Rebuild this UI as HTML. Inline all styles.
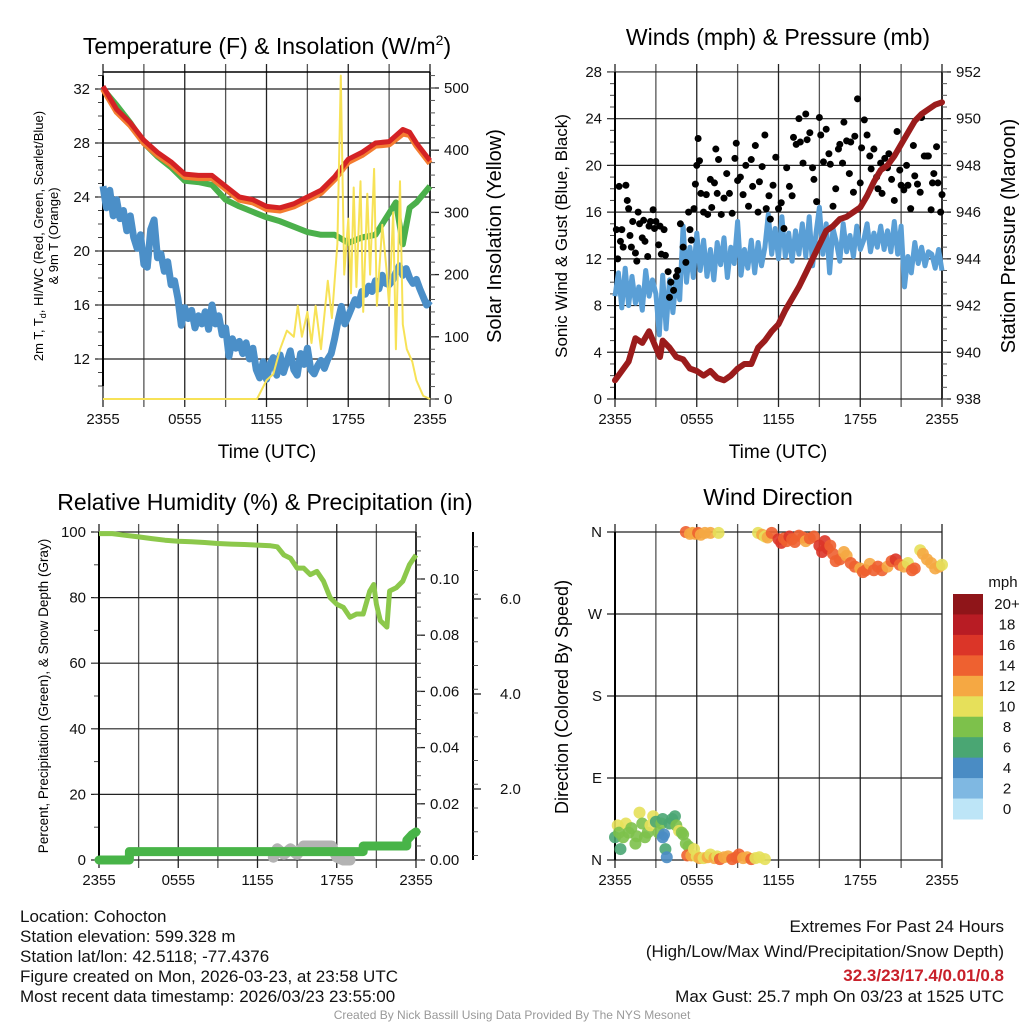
<!DOCTYPE html>
<html><head><meta charset="utf-8"><style>
html,body{margin:0;padding:0;background:#fff;}
svg{display:block;font-family:"Liberation Sans",sans-serif;}
.tk{font-size:15px;fill:#111;}
.ttl{font-size:23px;fill:#000;}
.ft{font-size:17px;fill:#111;}
</style></head><body>
<svg id="chart" width="1024" height="1024" viewBox="0 0 1024 1024" xmlns="http://www.w3.org/2000/svg">
<text class="ttl" x="267" y="54" text-anchor="middle">Temperature (F) &amp; Insolation (W/m<tspan dy="-9" font-size="14">2</tspan><tspan dy="9">)</tspan></text>
<text class="ttl" x="778" y="45" text-anchor="middle">Winds (mph) &amp; Pressure (mb)</text>
<text class="ttl" x="265" y="510" text-anchor="middle">Relative Humidity (%) &amp; Precipitation (in)</text>
<text class="ttl" x="778" y="505" text-anchor="middle">Wind Direction</text>

<text font-size="13" transform="translate(43,236) rotate(-90)" text-anchor="middle">2m T, T<tspan font-size="9" dy="3">d</tspan><tspan dy="-3">, HI/WC (Red, Green, Scarlet/Blue)</tspan></text>
<text font-size="13" transform="translate(58,236) rotate(-90)" text-anchor="middle">&amp; 9m T (Orange)</text>
<text font-size="20" transform="translate(501,236) rotate(-90)" text-anchor="middle">Solar Insolation (Yellow)</text>
<text font-size="19" x="267" y="458" text-anchor="middle">Time (UTC)</text>
<text font-size="17" transform="translate(567,236) rotate(-90)" text-anchor="middle">Sonic Wind &amp; Gust (Blue, Black)</text>
<text font-size="20" transform="translate(1015,236) rotate(-90)" text-anchor="middle">Station Pressure (Maroon)</text>
<text font-size="19" x="778" y="458" text-anchor="middle">Time (UTC)</text>
<text font-size="13.5" transform="translate(48,696) rotate(-90)" text-anchor="middle">Percent, Precipitation (Green), &amp; Snow Depth (Gray)</text>
<text font-size="18" transform="translate(568,697) rotate(-90)" text-anchor="middle">Direction (Colored By Speed)</text>

<g class="ft">
<text x="20" y="922">Location: Cohocton</text>
<text x="20" y="942">Station elevation: 599.328 m</text>
<text x="20" y="962">Station lat/lon: 42.5118; -77.4376</text>
<text x="20" y="982">Figure created on Mon, 2026-03-23, at 23:58 UTC</text>
<text x="20" y="1002">Most recent data timestamp: 2026/03/23 23:55:00</text>
</g>
<g class="ft" text-anchor="end">
<text x="1004" y="932">Extremes For Past 24 Hours</text>
<text x="1004" y="957">(High/Low/Max Wind/Precipitation/Snow Depth)</text>
<text x="1004" y="981" fill="#c8202a" style="fill:#c8202a;font-weight:bold">32.3/23/17.4/0.01/0.8</text>
<text x="1004" y="1002">Max Gust: 25.7 mph On 03/23 at 1525 UTC</text>
</g>
<text x="512" y="1019" text-anchor="middle" font-size="12" fill="#999">Created By Nick Bassill Using Data Provided By The NYS Mesonet</text>
</svg>
<script>
// ===== DATA =====
const xTickLabels = ["2355","0555","1155","1755","2355"];
const tempHours = [0,1,2,3,4,5,6,7,8,9,10,11,12,13,14,15,16,17,18,19,20,21,22,22.5,23,24];
const tempValues = [32.2,30.5,29.5,28.2,27.3,26.6,25.7,25.6,25.6,24.8,24.0,23.8,23.3,23.2,23.5,24.0,24.5,25.5,26.8,27.3,28.0,28.1,29.0,28.8,28.0,26.7];
const temp9mValues = [32.0,30.3,29.3,28.0,27.1,26.4,25.5,25.4,25.4,24.6,23.8,23.6,23.1,23.0,23.3,23.8,24.3,25.3,26.6,27.1,27.8,27.9,28.7,28.6,27.8,26.5];
const hiwcHours = [0,1,2,3,4,5,6,7,8,9,10,11,12,13,14,15,16,17,18,19,20,21,21.5,22,22.5,23,24];
const hiwcValues = [32.0,30.8,29.5,28.0,27.0,26.2,25.2,25.1,24.9,23.8,23.3,22.9,22.5,22.2,21.8,21.4,21.2,21.2,20.6,21.0,21.2,22.8,23.6,20.5,23.2,23.6,24.8];
const dewValues = [24.8,23.2,24.5,22.6,23.8, 22.4,23.0,21.5,22.6, 21.0,20.2,21.2,19.0, 18.8,21.6,22.3,19.5, 19.8,18.5,19.2,17.5, 17.8,16.5,14.5,15.8, 15.0,15.6,14.3,15.2, 14.6,15.5,14.2,16.0, 14.6,15.2,13.8,14.3, 12.2,13.5,12.8,13.3, 12.4,13.2,12.0,12.8, 11.2,10.6,11.8,10.5, 11.6,12.1,10.8,12.3, 11.0,11.8,12.6,11.2, 10.8,12.4,11.6,12.8, 11.2,10.9,11.5,11.9, 11.3,12.0,12.4,13.5, 14.8,15.9,14.6,15.2, 15.8,16.4,16.0,17.0, 16.8,17.4,17.0,17.8, 17.2,18.2,17.6,17.5, 17.8,18.4,18.9,18.2, 18.7,18.0,17.6,17.9, 17.2,16.6,16.0,16.3];
const solarHours = [0,11.3,12,12.5,13,13.5,14,14.3,14.6,15,15.3,15.6,16,16.5,16.8,17.2,17.45,17.7,18,18.2,18.4,18.6,18.9,19.1,19.4,19.6,19.9,20.1,20.5,20.8,21.0,21.3,21.5,21.8,22.0,22.3,22.7,23,23.5,24];
const solarValues = [0,0,30,40,80,110,100,150,100,140,90,150,80,190,130,250,520,200,290,170,340,180,350,140,330,200,370,150,280,210,150,300,80,350,120,80,60,30,5,0];
const tempTicks = [12,16,20,24,28,32];
const solarTicks = [0,100,200,300,400,500];

const windValues = [8.8,10.8,7.8,11.2,8.0, 10.5,8.2,9.6,7.6, 11.0,8.8,10.2,9.0, 5.5,10.6,6.0,10.2, 7.4,10.4,8.5,14.8, 10.0,13.0,10.4,14.2, 11.0,13.6,10.5,12.8, 10.2,13.4,11.5,13.8, 10.4,13.0,11.6,15.2, 10.6,12.8,11.2,13.6, 10.8,13.4,11.4,13.0, 15.8,12.4,14.6,12.0, 15.6,12.2,14.2,11.8, 14.4,12.4,15.0,12.2, 15.6,11.4,14.2,16.4, 12.4,15.0,10.8,14.6, 13.4,11.8,15.0,12.6, 14.0,12.2,14.8,12.8, 13.6,15.0,12.6,14.2, 13.0,14.8,12.8,14.4, 12.6,15.2,12.4,14.8, 9.6,12.2,10.8,13.4, 11.6,13.0,11.4,12.6, 12.4,11.2,12.8,11.0];
const gustHours = [0.1,0.2,0.3,0.4,0.5,0.6,0.8,0.9,1.0,1.1,1.2,1.3,1.5,1.6,1.7,1.8,2.0,2.1,2.2,2.4,2.5,2.6,2.8,2.9,3.0,3.2,3.3,3.4,3.6,3.7,3.9,4.0,4.1,4.3,4.5,4.6,4.8,5.0,5.2,5.4,5.5,5.6,5.8,5.9,6.0,6.1,6.2,6.3,6.5,6.7,6.8,7.0,7.1,7.3,7.4,7.5,7.6,7.8,8.0,8.2,8.4,8.6,8.8,8.9,9.0,9.2,9.4,9.6,9.8,10.0,10.1,10.3,10.5,10.6,10.8,11.0,11.1,11.3,11.4,11.6,11.8,12.0,12.2,12.4,12.6,12.8,13.0,13.1,13.3,13.5,13.6,13.8,14.0,14.1,14.3,14.5,14.6,14.8,15.0,15.1,15.3,15.5,15.7,15.8,16.0,16.2,16.4,16.5,16.7,16.8,17.0,17.2,17.3,17.5,17.6,17.8,18.0,18.1,18.3,18.5,18.7,18.8,19.0,19.2,19.3,19.5,19.6,19.8,20.0,20.1,20.3,20.5,20.7,20.9,21.0,21.2,21.4,21.5,21.7,21.9,22.0,22.2,22.4,22.5,22.7,22.9,23.0,23.2,23.3,23.4,23.6,23.7,23.9,24.0];
const gustValues = [14.5,12,18.2,13.5,14.5,13,18.3,17,16.3,14,13,15.2,12.5,11.8,16,15,13.8,15.3,13.5,12.2,14.8,15.2,16.2,14.6,15.2,13.2,14.8,12.4,14.5,12.3,10.9,8.7,10,9.3,10.5,11,15,13,11.7,16,14.5,13.6,16.3,18.4,20,22.3,20.4,17.6,16,17.5,15.8,18.8,16.4,18.5,21.4,17.6,20.5,15.8,17.2,19.3,17.6,15.9,20.6,21.9,18.7,19.0,17.5,20,16.5,20.5,18.2,21.7,16,18.6,19.9,22.6,16.3,17.4,15.4,18.3,20.7,16.3,16.8,14.6,19.8,18.2,17.4,22.4,21.8,24,22,20.2,24.4,22.2,22.8,19.8,18.8,16.9,24.1,22.6,20.3,23.1,21,20.1,16.5,18,21.4,21.8,20.2,23.7,22.1,19.3,22,17.7,22.5,25.7,18.5,21.5,23.9,22.6,20.8,19.7,21.4,19,18,20.2,17.6,20.6,19.8,21,18.8,17,22.9,19.6,18.3,17.9,20,18.3,16.3,21.7,19.1,18.4,17.7,24.1,20.8,20.8,20.8,16.2,18.5,19.3,21.6,18.5,16,17.5];
const pressHours = [0,0.5,1,1.5,2,2.5,3,3.3,3.5,4,4.5,5,5.5,6,6.5,7,7.5,8,8.5,9,9.5,10,10.5,11,11.5,12,12.5,13,13.5,14,14.5,15,15.5,16,16.5,17,17.5,18,18.5,19,19.5,20,20.5,21,21.5,22,22.5,23,23.5,24];
const pressValues = [938.8,939.2,939.6,940.6,940.4,940.9,940.2,939.8,940.5,940.2,939.8,939.7,939.3,939.2,939.0,939.2,938.9,938.8,939.0,939.3,939.5,939.5,940.2,940.5,940.9,941.2,941.8,942.3,942.8,943.4,944.0,944.6,945.2,945.4,945.7,945.8,946.0,946.2,946.7,947.3,947.8,948.0,948.4,948.9,949.4,949.9,950.2,950.4,950.6,950.7];
const windTicks = [0,4,8,12,16,20,24,28];
const pressTicks = [938,940,942,944,946,948,950,952];

const rhHours = [0,1,2,3,4,5,6,7,8,9,10,11,12,13,13.5,14,14.5,15,15.5,16,16.5,17,17.5,18,18.5,19,19.5,20,20.5,20.8,21,21.3,21.8,22,22.5,23,23.5,24];
const rhValues = [99.5,99.5,99,98.5,98,97.5,97.2,97,96.8,96.5,96.3,96.2,96,95.8,95.5,93,92,89,89,87,88,85,80,78,77,74,75,75,82,84,78,73,71,82,83,85,90,93];
const precipHours = [0,2.3,2.3,20,20,23.3,23.3,23.7,24];
const precipValues = [0,0,0.003,0.003,0.005,0.005,0.007,0.009,0.01];
const snowHours = [13.2,13.5,14,14.5,15,15.5,16,17,17.6,18,18.5,19];
const snowValues = [0.001,0.004,0.002,0.004,0.002,0.005,0.005,0.005,0.005,0.001,0.000,0.000];
const rhTicks = [0,20,40,60,80,100];
const precipTicks = [0,0.02,0.04,0.06,0.08,0.10];
const snowTicks = [2,4,6];

const dirHours = [0.0,0.2,0.3,0.4,0.6,0.8,1.0,1.2,1.5,1.6,1.8,2.0,2.2,2.4,2.6,2.8,3.0,3.2,3.4,3.5,3.5,3.6,3.7,3.8,4.0,4.2,4.4,4.5,4.7,4.9,5.0,5.2,5.4,5.3,5.6,5.8,6.0,6.2,6.5,6.8,7.0,7.3,7.5,7.7,8.0,8.3,8.6,8.9,9.1,9.4,9.7,10.0,10.3,10.6,11.0, 5.2,5.5,5.7,5.9,6.1,6.3,6.6,7.0,7.6,10.5,10.8,11.0,11.2,11.5,12.0,12.2,12.4,12.6,12.8,13.0,13.2,13.5,13.8,14.0,14.3,14.6,15.0,15.2,15.4,15.6,15.8,16.0,16.2,16.5,16.8,17.0,17.3,17.6,18.0,18.2,18.4,18.7,19.0,19.3,19.6,20.0,20.3,20.6,20.9,21.2,21.5,21.8,22.0,22.4,22.6,22.9,23.2,23.5,23.8,24.0];
const dirValues = [25,38,30,12,25,40,30,35,18,26,52,40,25,30,38,48,42,30,40,45,25,28,12,3,40,45,48,38,32,30,28,18,15,5,5,12,4,2,2,3,6,2,4,1,3,4,1,3,6,2,3,1,2,3,1, 360,358,359,358,359,357,359,359,359,359,357,355,354,359,352,348,353,350,355,352,349,356,354,350,353,355,345,338,350,342,345,336,328,330,338,334,326,322,320,316,318,325,318,322,318,322,328,330,324,322,326,318,320,340,336,330,326,320,322,324];
const dirSpeeds = [7,10,9,6,8,10,8,9,8,8,10,9,8,8,10,10,7,8,9,6,4,5,6,4,7,6,6,8,10,8,9,8,9,14,12,10,11,12,11,12,11,12,10,14,12,13,15,14,14,13,12,15,10,11,10, 14,12,12,13,14,13,12,12,10,11,12,10,12,14,16,17,15,14,16,14,14,15,14,12,14,15,16,17,16,17,14,15,14,15,13,13,15,14,12,14,14,13,14,15,14,12,14,16,14,12,11,14,14,10,12,12,12,12,12,11];
const speedBinLabels = ["0","2","4","6","8","10","12","14","16","18","20+"];
const speedBinColors = ["#bde5f7","#7fb8e2","#4a8cc4","#4aa673","#7dc14b","#e6e05a","#f5a843","#ee6130","#db3528","#b81c24","#8f1519"];
const dirTickLabels = ["N","E","S","W","N"];

// ===== RENDER =====
const NS = "http://www.w3.org/2000/svg";
const svg = document.getElementById("chart");
function mk(tag, attrs, parent, name) {
  const e = document.createElementNS(NS, tag);
  for (const k in attrs) e.setAttribute(k, attrs[k]);
  
  
  (parent || svg).appendChild(e);
  return e;
}
function group(name) { return mk("g", {}, svg, name); }
function pts(xs, ys, fx, fy) { return xs.map((h, i) => fx(h).toFixed(1) + "," + fy(ys[i]).toFixed(1)).join(" "); }
function line(g, x1, y1, x2, y2, c, w, name) { return mk("line", {x1, y1, x2, y2, stroke: c, "stroke-width": w}, g, name); }
function txt(g, x, y, s, anchor, name, extra) {
  const t = mk("text", Object.assign({x, y, "text-anchor": anchor, class: "tk"}, extra || {}), g, name);
  t.textContent = s; return t;
}
function frame(g, x0, x1, yt, yb, ext) {
  const xs = h => x0 + h / 24 * (x1 - x0);
  for (let h = 0; h <= 24; h += 3) {
    line(g, xs(h), yt - ext, xs(h), yb + 8, h % 6 === 0 ? "#222" : "#555", 1.3, "x-grid-line");
  }
  xTickLabels.forEach((s, i) => txt(g, xs(i * 6), yb + 25, s, "middle", "x-tick-label"));
  return xs;
}
function leftAxis(g, x0, x1, ticks, fy, labels, minorStep, lo, hi, ax) {
  ticks.forEach((v, i) => {
    line(g, x0 - 8, fy(v), x1, fy(v), "#222", 1.2, "y-grid-line");
    txt(g, x0 - 13, fy(v) + 5, labels ? labels[i] : String(v), "end", "y-tick-label");
  });
  if (minorStep) for (let v = lo; v <= hi + 1e-9; v += minorStep) line(g, x0 - 5, fy(v), x0, fy(v), "#444", 1, "y-minor-tick");
  line(g, ax, fy(lo), ax, fy(hi), "#000", 2, "y-axis-line");
}
function rightAxis(g, x, ticks, fy, fmt, minorStep, lo, hi) {
  ticks.forEach(v => {
    line(g, x, fy(v), x + 9, fy(v), "#222", 1.3, "right-major-tick");
    txt(g, x + 14, fy(v) + 5, fmt(v), "start", "right-tick-label");
  });
  for (let v = lo; v <= hi + 1e-9; v += minorStep) line(g, x, fy(v), x + 5, fy(v), "#555", 1, "right-minor-tick");
}
const q = h => h * 0.25;
const qHours = windValues.map((_, i) => q(i));

// ---- Panel 1 ----
{
  const g = group("temperature-panel");
  const x0 = 103, x1 = 430, yt = 72, yb = 399;
  const xs = frame(g, x0, x1, yt, yb, 8);
  const yT = v => 359 - (v - 12) * 13.5;
  const yS = v => 399 - v * 0.622;
  leftAxis(g, x0, x1, tempTicks, yT, null, 1, 10, 33, x0);
  line(g, x0, yt, x1, yt, "#000", 1.5, "top-border");
  line(g, x0, yb, x1, yb, "#000", 1.5, "bottom-border");
  line(g, x1, yt, x1, yb, "#000", 1.5, "right-border");
  rightAxis(g, x1, solarTicks, yS, v => String(v), 20, 0, 520);
  mk("polyline", {points: pts(qHours, dewValues, xs, yT), fill: "none", stroke: "#4b8fc8", "stroke-width": 7, "stroke-linejoin": "round"}, g, "dewpoint-line");
  mk("polyline", {points: pts(hiwcHours, hiwcValues, xs, yT), fill: "none", stroke: "#4bb04b", "stroke-width": 6, "stroke-linejoin": "round"}, g, "windchill-line");
  mk("polyline", {points: pts(tempHours, temp9mValues, xs, yT), fill: "none", stroke: "#f47c30", "stroke-width": 6, "stroke-linejoin": "round"}, g, "temp-9m-line");
  mk("polyline", {points: pts(tempHours, tempValues, xs, yT), fill: "none", stroke: "#d42224", "stroke-width": 5, "stroke-linejoin": "round"}, g, "temp-2m-line");
  mk("polyline", {points: pts(solarHours, solarValues, xs, yS), fill: "none", stroke: "#f7e257", "stroke-width": 2, "stroke-linejoin": "round"}, g, "solar-line");
}
// ---- Panel 2 ----
{
  const g = group("winds-panel");
  const x0 = 615, x1 = 942, yt = 72, yb = 399;
  const xs = frame(g, x0, x1, yt, yb, 8);
  const yW = v => 399 - v * 11.68;
  const yP = v => 399 - (v - 938) * 23.36;
  leftAxis(g, x0, x1, windTicks, yW, null, 1, 0, 28, x0);
  line(g, x1, yt, x1, yb, "#000", 1.5, "right-border");
  rightAxis(g, x1, pressTicks, yP, v => String(v), 0.5, 938, 952);
  mk("polyline", {points: pts(qHours, windValues, xs, yW), fill: "none", stroke: "#5a9fd6", "stroke-width": 5, "stroke-linejoin": "round"}, g, "sonic-wind-line");
  gustHours.forEach((h, i) => {
    mk("circle", {cx: xs(h), cy: yW(gustValues[i]), r: 3.5, fill: "#000"}, g, "gust-point");
  });
  mk("polyline", {points: pts(pressHours, pressValues, xs, yP), fill: "none", stroke: "#9b1c1c", "stroke-width": 6, "stroke-linejoin": "round", "stroke-linecap": "round"}, g, "pressure-line");
}
// ---- Panel 3 ----
{
  const g = group("humidity-panel");
  const x0 = 99, x1 = 416, yt = 532, yb = 860;
  const xs = frame(g, x0, x1, yt, yb, 8);
  const yR = v => 860 - v * 3.28;
  const yPr = v => 860 - v * 2810;
  const ySn = v => 884 - v * 47.5;
  leftAxis(g, x0, x1, rhTicks, yR, null, 10, 0, 100, x0);
  line(g, x1, yt, x1, yb, "#000", 1.5, "right-border");
  rightAxis(g, x1, precipTicks, yPr, v => v.toFixed(2), 0.005, 0, 0.115);
  line(g, 473, 532, 473, 860, "#000", 2, "snow-axis-line");
  snowTicks.forEach(v => {
    line(g, 473, ySn(v), 481, ySn(v), "#222", 1.3, "snow-major-tick");
    txt(g, 500, ySn(v) + 5, v.toFixed(1), "start", "snow-tick-label");
  });
  for (let v = 0.6; v <= 7.2; v += 0.5) line(g, 473, ySn(v), 478, ySn(v), "#555", 1, "snow-minor-tick");
  mk("polyline", {points: pts(snowHours, snowValues, xs, yPr), fill: "none", stroke: "#b3b3b3", "stroke-width": 11, "stroke-linejoin": "round", "stroke-linecap": "round"}, g, "snow-depth-line");
  mk("polyline", {points: pts(precipHours, precipValues, xs, yPr), fill: "none", stroke: "#48b448", "stroke-width": 9, "stroke-linejoin": "round", "stroke-linecap": "round"}, g, "precip-line");
  mk("polyline", {points: pts(rhHours, rhValues, xs, yR), fill: "none", stroke: "#8cc84b", "stroke-width": 5, "stroke-linejoin": "round"}, g, "rh-line");
}
// ---- Panel 4 ----
{
  const g = group("direction-panel");
  const x0 = 615, x1 = 942, yt = 532, yb = 860;
  const xs = frame(g, x0, x1, yt, yb, 8);
  const yD = d => 860 - d * (328 / 360);
  leftAxis(g, x0, x1, [0, 90, 180, 270, 360], yD, dirTickLabels, 0, 0, 360, x0);
  dirHours.forEach((h, i) => {
    const b = Math.min(10, Math.floor(dirSpeeds[i] / 2));
    mk("circle", {cx: xs(h), cy: yD(dirValues[i]), r: 6, fill: speedBinColors[b], "fill-opacity": 0.9}, g, "direction-point");
  });
  const lg = group("speed-legend");
  const lx = 953, ly = 594, bh = 225 / 11;
  txt(lg, 1003, 587, "mph", "middle", "legend-title");
  speedBinLabels.forEach((s, i) => {
    const k = 10 - i;
    mk("rect", {x: lx, y: ly + i * bh, width: 30, height: bh + 0.5, fill: speedBinColors[k]}, lg, "legend-swatch");
    txt(lg, 1007, ly + i * bh + bh / 2 + 5, speedBinLabels[k], "middle", "legend-label");
  });
}
</script>
</body></html>
